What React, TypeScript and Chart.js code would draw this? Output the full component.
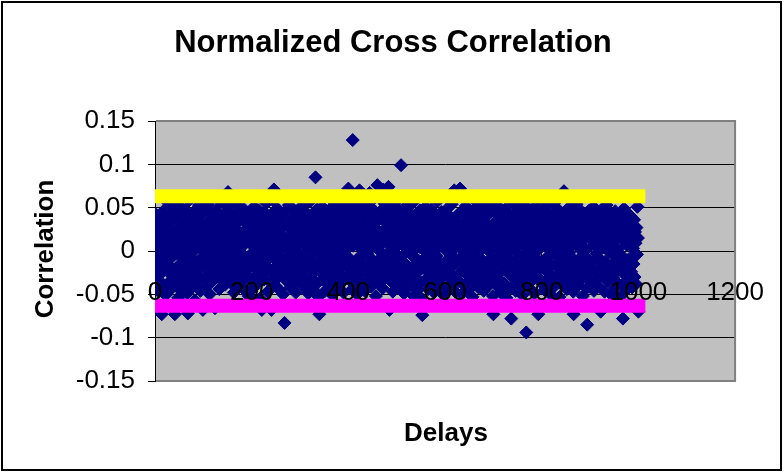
import { useEffect, useRef } from 'react';
import { Chart, registerables } from 'chart.js';

Chart.register(...registerables);

const chartTitle = 'Normalized Cross Correlation';
const xAxisTitle = 'Delays';
const yAxisTitle = 'Correlation';

const xTickValues = [0, 200, 400, 600, 800, 1000, 1200];
const xTickLabels = ['0', '200', '400', '600', '800', '1000', '1200'];
const yTickValues = [-0.15, -0.1, -0.05, 0, 0.05, 0.1, 0.15];
const yTickLabels = ['-0.15', '-0.1', '-0.05', '0', '0.05', '0.1', '0.15'];

// confidence bounds (yellow upper, magenta lower) spanning delays 0..1000
const boundDelays = [0, 1000];
const upperBound = 0.0632;
const lowerBound = -0.0632;

// correlation per delay, delays 0..1000 in blocks of 100
const corr000 = [
  .013, -.021, .042, .005, -.034, .027, -.008, .031, -.047, .018,
  -.012, .038, -.026, .003, -.073, .022, -.015, .046, -.039, .009,
  .033, -.004, -.051, .017, .028, -.023, .056, -.011, .002, -.036,
  .024, -.018, .041, -.044, .015, -.007, .035, -.029, .011, .049,
  -.025, -.073, .019, -.003, .044, -.041, .007, .026, -.054, .014,
  -.016, .052, -.032, .001, .037, -.02, .021, -.045, .029, -.009,
  .004, -.038, .047, .012, -.027, .034, -.014, -.049, -.072, .023,
  .058, -.006, .016, -.031, .039, -.019, .008, -.042, .03, -.001,
  .045, -.024, .011, -.057, .02, .036, -.013, .006, -.035, .025,
  -.028, .053, -.01, .017, -.046, .032, -.017, .043, .001, -.068,
];
const corr100 = [
  .026, -.033, .009, .048, -.019, .002, -.041, .031, .015, -.008,
  .054, -.026, .012, -.05, .037, -.004, .021, -.036, .006, .043,
  -.015, .028, -.022, .035, -.066, .014, -.03, .047, .003, -.011,
  .039, -.027, .018, -.044, .024, .057, -.007, .01, -.034, .032,
  -.018, .005, .041, -.025, .016, -.039, .029, -.002, .052, -.013,
  .022, .068, -.029, .008, .034, -.021, .045, -.037, .013, -.006,
  .027, -.016, .04, -.048, .019, .001, -.031, .055, .011, -.024,
  .033, -.009, .023, -.042, .046, .004, -.019, .036, -.028, .015,
  -.003, .05, -.035, .02, .007, -.014, .038, -.046, .025, .012,
  -.022, .044, -.01, .03, -.052, .017, -.005, .042, -.032, .009,
];
const corr200 = [
  .035, -.017, .006, -.043, .028, .051, -.012, .019, -.029, .04,
  .002, -.038, .024, -.007, .047, -.023, .013, -.055, .031, .008,
  -.015, -.068, .037, -.004, .022, -.033, .045, .01, -.026, .016,
  .055, -.011, .029, -.047, .004, .039, -.02, .014, -.036, .026,
  -.002, -.068, .043, -.024, .018, .058, .071, -.009, .033, -.04,
  .007, .024, -.018, .049, -.031, .012, -.006, .036, -.045, .02,
  .003, -.027, .041, -.013, .027, -.05, .015, .032, -.083, -.008,
  .046, -.021, .011, -.035, .03, .001, -.016, .053, -.03, .018,
  -.042, .025, .008, -.012, .038, -.025, .048, -.003, .016, -.037,
  .022, -.048, .034, .005, -.019, .044, -.01, .027, -.034, .013,
];
const corr300 = [
  -.005, .039, -.028, .016, .052, -.014, .023, -.041, .009, .031,
  -.022, .045, -.008, .019, -.036, .028, .002, -.049, .035, -.017,
  .012, .057, -.031, .006, .026, -.011, .042, -.044, .017, -.002,
  .033, -.024, .085, .011, -.038, .048, -.015, .021, -.053, .029,
  -.073, .004, .04, -.019, .014, -.033, .051, -.007, .025, -.027,
  .036, .008, -.046, .019, -.012, .044, -.023, .001, .032, -.039,
  .015, -.004, .047, -.029, .022, -.016, .038, -.051, .01, .027,
  -.009, .054, -.034, .013, .03, -.021, .005, -.043, .041, -.001,
  .018, -.026, .049, -.013, .024, -.037, .007, .035, -.018, .046,
  -.048, .012, .029, -.006, .039, -.03, .017, -.011, .055, .003,
];
const corr400 = [
  .072, -.02, .033, -.009, .047, -.035, .014, .026, -.044, .128,
  .006, -.017, .04, -.027, .019, .053, -.012, .031, -.05, .009,
  .024, -.032, .044, .07, -.006, .016, -.039, .035, .002, -.022,
  .05, .065, -.015, .028, -.046, .011, .038, -.025, .02, -.003,
  .043, -.034, .013, .056, .067, -.018, .027, -.041, .004, .036,
  -.01, .048, -.029, .017, .061, -.014, .032, -.052, .008, .025,
  .076, -.021, .039, .001, -.037, .045, .015, -.008, .059, -.026,
  .022, -.043, .071, .01, -.016, .034, .054, -.031, .018, -.004,
  .041, -.023, .012, .074, .029, -.068, .006, .047, -.035, .02,
  -.011, .037, -.047, .014, .052, -.019, .026, -.002, .043, -.028,
];
const corr500 = [
  .015, .058, -.013, .031, -.04, .008, .023, -.024, .046, .099,
  -.007, .035, -.033, .012, .027, -.049, .019, .05, -.015, .003,
  .038, -.028, .016, -.042, .029, .006, -.019, .044, -.036, .011,
  .025, -.005, .055, -.025, .014, -.052, .032, .001, -.016, .041,
  -.031, .02, .009, -.045, .036, -.011, .026, -.038, .047, .004,
  -.021, .03, -.055, -.074, .017, .043, -.009, .022, -.034, .013,
  .051, -.017, .034, -.003, .024, -.044, .007, .039, -.026, .015,
  -.012, .048, -.037, .019, .002, -.022, .033, -.048, .028, .01,
  .042, -.029, .016, -.006, .057, -.018, .025, -.04, .005, .037,
  -.014, .021, -.032, .045, .011, -.024, .03, -.051, .018, .002,
];
const corr600 = [
  .036, -.02, .012, -.043, .027, .049, -.01, .018, -.031, .006,
  .04, -.025, .022, -.004, .054, -.037, .014, .029, -.016, .07,
  .003, -.047, .034, -.012, .019, .065, -.028, .009, .043, -.035,
  .024, .072, -.008, .016, -.05, .031, .001, -.021, .046, .011,
  -.039, .026, -.014, .052, .007, -.027, .037, -.005, .02, -.045,
  .033, .013, -.018, .041, -.032, .004, .028, -.053, .017, .047,
  -.009, .023, -.038, .035, .008, -.023, .056, -.015, .014, -.042,
  .03, -.001, .044, -.029, .019, .005, -.034, .039, -.011, .025,
  -.046, .015, .05, -.019, .01, -.03, .032, .002, -.041, .042,
  -.013, .021, -.024, .053, .006, -.036, .027, -.007, .017, -.052,
];
const corr700 = [
  -.073, .031, -.016, .045, .008, -.027, .022, -.04, .036, .002,
  -.011, .051, -.033, .014, .027, -.048, .019, -.004, .041, -.022,
  .011, .034, -.037, .006, .048, -.014, .024, -.054, .016, .03,
  -.008, .043, -.026, .012, -.043, .037, .001, -.078, .021, -.018,
  .055, -.031, .009, .028, -.012, .039, -.046, .017, -.002, .033,
  -.024, .047, .005, -.039, .025, -.015, .013, .042, -.029, .019,
  -.051, .036, -.006, .022, .053, -.02, .01, -.035, -.094, .029,
  .004, -.013, .044, -.042, .015, .026, -.025, .038, -.003, .018,
  -.034, .049, .007, -.017, .032, -.049, .023, .012, -.028, .04,
  -.009, .057, .016, -.073, .027, -.032, .003, .045, -.019, .021,
];
const corr800 = [
  .034, -.038, .011, .046, -.014, .024, -.045, .006, .03, -.023,
  .052, -.007, .017, -.033, .04, .002, -.026, .035, -.05, .019,
  .009, -.016, .043, -.03, .026, .013, -.041, .056, -.004, .021,
  -.035, .032, .008, -.019, .048, -.027, .015, -.053, .037, .001,
  -.012, .028, -.039, .042, .014, -.021, .069, .005, -.031, .025,
  -.008, .039, -.044, .018, .031, -.017, .05, -.002, .023, -.036,
  .012, .044, -.024, .007, .033, -.047, -.073, .02, -.011, .038,
  -.029, .016, .054, -.015, .027, -.04, .004, .036, -.022, .013,
  .047, -.033, .01, -.006, .03, -.052, .021, .041, -.018, .015,
  -.028, .035, .002, -.043, -.085, .024, -.01, .046, -.034, .018,
];
const corr900 = [
  .029, -.02, .043, -.037, .012, .026, -.013, .051, -.046, .007,
  .033, -.025, .017, -.003, .045, -.032, .022, .01, -.041, .037,
  -.009, .025, -.07, .014, .048, -.018, .031, -.029, .004, .041,
  -.047, .019, -.012, .036, .053, -.022, .009, -.035, .027, -.001,
  .044, -.026, .015, -.05, .032, .006, -.016, .039, -.031, .021,
  .011, -.043, .046, -.007, .024, -.036, .034, .002, -.021, .042,
  -.014, .028, -.053, .016, .037, -.005, .022, -.039, -.078, .012,
  .049, -.027, .018, -.011, .035, -.045, .007, .03, -.019, .043,
  -.033, .013, .025, -.008, .04, -.024, .019, -.042, .031, .003,
  -.015, .036, -.03, .022, .009, -.038, .027, -.004, .051, .015,
  -.07,
];

const correlations = [
  ...corr000, ...corr100, ...corr200, ...corr300, ...corr400,
  ...corr500, ...corr600, ...corr700, ...corr800, ...corr900,
];

const FONT = '"Liberation Sans", Arial, sans-serif';

const framePlugin = {
  id: 'excelFrame',
  beforeDraw(chart: any) {
    const { ctx, chartArea: a } = chart;
    ctx.save();
    ctx.fillStyle = '#ffffff';
    ctx.fillRect(0, 0, chart.width, chart.height);
    ctx.fillStyle = '#C0C0C0';
    ctx.fillRect(a.left, a.top, a.right - a.left, a.bottom - a.top);
    ctx.restore();
  },
  beforeDatasetsDraw(chart: any) {
    const { ctx, chartArea: a } = chart;
    ctx.save();
    ctx.strokeStyle = '#808080';
    ctx.lineWidth = 2;
    ctx.beginPath();
    ctx.moveTo(a.left + 1, a.top);
    ctx.lineTo(a.right, a.top);
    ctx.lineTo(a.right, a.bottom);
    ctx.lineTo(a.left + 1, a.bottom);
    ctx.stroke();
    ctx.restore();
  },
  afterDraw(chart: any) {
    const { ctx } = chart;
    ctx.save();
    ctx.fillStyle = '#000';
    ctx.textAlign = 'center';
    ctx.textBaseline = 'alphabetic';
    ctx.font = `bold 31px ${FONT}`;
    ctx.fillText(chartTitle, 393, 52);
    ctx.font = `bold 26px ${FONT}`;
    ctx.fillText(xAxisTitle, 446, 441);
    ctx.translate(53, 249);
    ctx.rotate(-Math.PI / 2);
    ctx.fillText(yAxisTitle, 0, 0);
    ctx.restore();
    ctx.save();
    ctx.strokeStyle = '#000';
    ctx.lineWidth = 2;
    ctx.strokeRect(2, 2, 779, 468);
    ctx.restore();
  },
};

export default function App() {
  const canvasRef = useRef<HTMLCanvasElement | null>(null);

  useEffect(() => {
    document.body.style.margin = '0';
    const canvas = canvasRef.current;
    if (!canvas) return;

    const points = correlations.map((v, i) => ({ x: i, y: v }));
    const upper = boundDelays.map((d) => ({ x: d, y: upperBound }));
    const lower = boundDelays.map((d) => ({ x: d, y: lowerBound }));

    const chart = new Chart(canvas, {
      type: 'scatter',
      data: {
        datasets: [
          {
            label: 'Upper bound',
            data: upper,
            showLine: true,
            borderColor: '#FFFF00',
            backgroundColor: '#FFFF00',
            borderWidth: 14,
            borderCapStyle: 'square',
            pointRadius: 0,
          },
          {
            label: 'Lower bound',
            data: lower,
            showLine: true,
            borderColor: '#FF00FF',
            backgroundColor: '#FF00FF',
            borderWidth: 14,
            borderCapStyle: 'square',
            pointRadius: 0,
          },
          {
            label: 'Correlation',
            data: points,
            pointStyle: 'rectRot',
            pointRadius: 6.5,
            borderWidth: 1,
            backgroundColor: '#000080',
            borderColor: '#000080',
          },
        ],
      },
      options: {
        responsive: false,
        animation: false,
        devicePixelRatio: 1,
        layout: { padding: { top: 121, bottom: 93, left: 0, right: 48 } },
        plugins: {
          legend: { display: false },
          tooltip: { enabled: false },
          title: { display: false },
        },
        scales: {
          x: {
            type: 'linear',
            position: { y: 0 } as any,
            min: 0,
            max: 1200,
            afterBuildTicks: (scale: any) => {
              scale.ticks = xTickValues.map((v) => ({ value: v }));
            },
            ticks: {
              z: 1,
              color: '#000',
              font: { family: FONT, size: 26 },
              padding: 20,
              maxRotation: 0,
              autoSkip: false,
              callback: (v: any) => {
                const i = xTickValues.indexOf(Number(v));
                return i >= 0 ? xTickLabels[i] : '';
              },
            },
            grid: {
              drawOnChartArea: false,
              drawTicks: true,
              tickLength: 6,
              color: '#000',
              tickColor: '#000',
            },
            border: { display: false },
          },
          y: {
            type: 'linear',
            position: 'left',
            min: -0.15,
            max: 0.15,
            afterBuildTicks: (scale: any) => {
              scale.ticks = yTickValues.map((v) => ({ value: v }));
            },
            afterFit: (scale: any) => {
              scale.width = 155;
            },
            ticks: {
              color: '#000',
              font: { family: FONT, size: 26 },
              padding: 13,
              autoSkip: false,
              callback: (v: any) => {
                const i = yTickValues.findIndex((t) => Math.abs(t - Number(v)) < 1e-6);
                return i >= 0 ? yTickLabels[i] : '';
              },
            },
            grid: {
              color: (ctx: any) =>
                ctx.tick && Math.abs(Math.abs(ctx.tick.value) - 0.15) < 1e-6
                  ? 'rgba(0,0,0,0)'
                  : '#000',
              tickColor: '#000',
              tickLength: 7,
              lineWidth: 1,
            },
            border: { color: '#000', width: 1 },
          },
        },
      },
      plugins: [framePlugin],
    });

    return () => chart.destroy();
  }, []);

  return (
    <div style={{ position: 'absolute', left: 0, top: 0, width: 784, height: 474 }}>
      <canvas ref={canvasRef} width={784} height={474} style={{ width: 784, height: 474 }} />
    </div>
  );
}
